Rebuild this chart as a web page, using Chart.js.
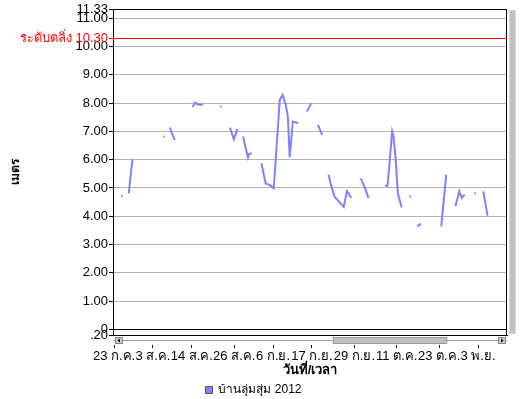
<!DOCTYPE html>
<html>
<head>
<meta charset="utf-8">
<script src="https://cdn.jsdelivr.net/npm/chart.js@4"></script>
<style>
  html, body { margin: 0; padding: 0; background: #fff; }
  #wrap { width: 521px; height: 399px; }
</style>
</head>
<body>
<div id="wrap"><canvas id="levelChart" width="521" height="399"></canvas></div>
<script>
// x = days after 23 ก.ค. 2012, null level = no reading (gap in the line)
const days = [
  2.2, 3.1,
  4.0, 4.2, 4.7, 5.2, 9.0,
  14.1, 15.0,
  15.8, 16.4, 17.2, 20.0,
  22.2, 22.9, 23.5, 24.3, 25.2, 28.0,
  30.2, 31.0,
  32.8, 33.9, 34.9, 35.7,
  36.5, 37.9, 38.2, 39.0, 40.0,
  41.7, 42.9, 44.1, 45.2, 46.0, 46.9, 47.7, 48.6, 49.2, 49.7, 50.6, 52.1, 53.0,
  54.6, 55.8, 56.5,
  57.7, 58.9, 60.0,
  60.7, 61.4, 62.4, 64.3, 65.0, 65.9, 67.1, 68.0,
  69.8, 70.9, 72.0, 74.0,
  76.7, 77.4, 78.7, 79.1, 79.7, 80.3, 81.4, 82.5,
  83.8, 84.5,
  85.8, 86.9, 89.0,
  92.6, 94.0, 95.0,
  96.6, 97.7, 98.4, 99.2, 100.5,
  102.1, 103.0,
  104.5, 105.7
];
const levels = [
  4.71, null,
  4.87, 4.85, 5.45, 6.01, null,
  6.82, null,
  7.14, 6.92, 6.70, null,
  7.86, 8.02, 7.97, 7.94, 7.95, null,
  7.88, null,
  7.13, 6.72, 7.09, null,
  6.82, 6.07, 6.20, 6.23, null,
  5.87, 5.16, 5.10, 4.99, 6.46, 8.12, 8.29, 7.94, 7.50, 6.09, 7.35, 7.29, null,
  7.70, 8.00, null,
  7.23, 6.88, null,
  5.48, 5.10, 4.69, 4.43, 4.33, 4.89, 4.65, null,
  5.34, 5.04, 4.65, null,
  5.08, 5.08, 7.00, 6.82, 6.00, 4.82, 4.31, null,
  4.70, null,
  3.64, 3.74, null,
  3.64, 5.47, null,
  4.35, 4.88, 4.65, 4.76, null,
  4.81, null,
  4.88, 4.02
];

const bankLevel = 10.30;
const yTicks = [-0.2, 0, 1, 2, 3, 4, 5, 6, 7, 8, 9, 10, 10.3, 11, 11.33];
const yTickLabels = [".20", "0", "1.00", "2.00", "3.00", "4.00", "5.00", "6.00", "7.00", "8.00", "9.00", "10.00", "ระดับตลิ่ง 10.30", "11.00", "11.33"];
const xTickDays = [0, 11, 22, 34, 45, 56, 68, 80, 92, 103];
const xTickLabels = ["23 ก.ค.", "3 ส.ค.", "14 ส.ค.", "26 ส.ค.", "6 ก.ย.", "17 ก.ย.", "29 ก.ย.", "11 ต.ค.", "23 ต.ค.", "3 พ.ย."];

const lineColor = "#8080ff";
const fontFamily = "'Liberation Sans', 'Noto Sans', sans-serif";

// scrollbars + right frame, drawn on top
const chromePlugin = {
  id: "chrome",
  afterDraw(chart) {
    const { ctx, chartArea: ca } = chart;
    ctx.save();
    ctx.lineWidth = 1;
    ctx.strokeStyle = "#000";
    ctx.beginPath();
    ctx.moveTo(ca.right - 0.5, ca.top);
    ctx.lineTo(ca.right - 0.5, ca.bottom);
    ctx.stroke();

    // horizontal scrollbar
    const y0 = ca.bottom + 1, h = 9;
    ctx.fillStyle = "#fff";
    ctx.fillRect(ca.left + 1, y0, ca.right - ca.left, h);
    ctx.strokeStyle = "#a0a0a0";
    ctx.beginPath();
    ctx.moveTo(ca.left + 1, y0 + 4.5);
    ctx.lineTo(ca.right, y0 + 4.5);
    ctx.stroke();
    const w = ca.right - ca.left;
    const t0 = ca.left + w * 0.558, t1 = ca.left + w * 0.848;
    ctx.fillStyle = "#c0c0c0";
    ctx.fillRect(t0, y0 + 1, t1 - t0, 7);
    ctx.strokeStyle = "#999";
    ctx.strokeRect(t0 + 0.5, y0 + 1.5, t1 - t0 - 1, 6);
    [ca.left + 2, ca.right - 9].forEach((bx, k) => {
      ctx.fillStyle = "#c8c8c8";
      ctx.fillRect(bx, y0 + 1, 8, 7);
      ctx.strokeStyle = "#888";
      ctx.strokeRect(bx + 0.5, y0 + 1.5, 7, 6);
      ctx.fillStyle = "#000";
      ctx.beginPath();
      if (k === 0) {
        ctx.moveTo(bx + 2.5, y0 + 4.5);
        ctx.lineTo(bx + 5, y0 + 2.5);
        ctx.lineTo(bx + 5, y0 + 6.5);
      } else {
        ctx.moveTo(bx + 5.5, y0 + 4.5);
        ctx.lineTo(bx + 3, y0 + 2.5);
        ctx.lineTo(bx + 3, y0 + 6.5);
      }
      ctx.fill();
    });

    // vertical scrollbar
    ctx.fillStyle = "#c0c0c0";
    ctx.fillRect(ca.right + 2, ca.top + 1, 7, ca.bottom - ca.top - 2);
    ctx.strokeStyle = "#d8d8d8";
    ctx.strokeRect(ca.right + 2.5, ca.top + 1.5, 6, ca.bottom - ca.top - 3);
    ctx.restore();
  }
};

new Chart(document.getElementById("levelChart"), {
  type: "line",
  data: {
    datasets: [{
      label: "บ้านลุ่มสุ่ม 2012",
      data: days.map((d, i) => ({ x: d, y: levels[i] })),
      borderColor: lineColor,
      backgroundColor: lineColor,
      borderWidth: 2,
      tension: 0,
      spanGaps: false,
      pointStyle: "rect",
      pointBorderWidth: 0,
      pointRadius: ctx => {
        const i = ctx.dataIndex;
        if (levels[i] == null) return 0;
        return (levels[i - 1] == null && levels[i + 1] == null) ? 1.3 : 0;
      },
      pointHoverRadius: 0
    }]
  },
  options: {
    responsive: false,
    animation: false,
    layout: { padding: { top: 9, right: 14, bottom: -7, left: 0 } },
    plugins: {
      legend: {
        position: "bottom",
        labels: {
          boxWidth: 7,
          boxHeight: 7,
          padding: 0,
          color: "#000",
          font: { family: fontFamily, size: 12 },
          generateLabels: chart => chart.data.datasets.map((ds, i) => ({
            text: ds.label,
            fillStyle: lineColor,
            strokeStyle: "#555",
            lineWidth: 1,
            datasetIndex: i
          }))
        }
      },
      tooltip: { enabled: false }
    },
    scales: {
      x: {
        type: "linear",
        min: -0.3,
        max: 111.2,
        afterBuildTicks: scale => { scale.ticks = xTickDays.map(v => ({ value: v })); },
        afterFit: scale => { scale.height = 49; },
        grid: { drawOnChartArea: false, tickLength: 13, tickColor: "#000" },
        border: { color: "#000" },
        ticks: {
          autoSkip: false,
          maxRotation: 0,
          padding: 1,
          color: "#000",
          font: { family: fontFamily, size: 13 },
          callback: (v, i) => xTickLabels[i]
        },
        title: {
          display: true,
          text: "วันที่/เวลา",
          color: "#000",
          font: { family: fontFamily, size: 13, weight: "bold" },
          padding: { top: 0, bottom: 6 }
        }
      },
      y: {
        min: -0.2,
        max: 11.33,
        afterBuildTicks: scale => { scale.ticks = yTicks.map(v => ({ value: v })); },
        afterFit: scale => { scale.width = 113; },
        grid: {
          tickLength: 4,
          color: ctx => {
            const v = ctx.tick ? ctx.tick.value : null;
            if (v === bankLevel) return "#ff0000";
            if (v === 0 || v === -0.2 || v === 11.33) return "#000";
            return "#b4b4b4";
          },
          tickColor: ctx => (ctx.tick && ctx.tick.value === bankLevel) ? "#ff0000" : "#000"
        },
        border: { color: "#000" },
        ticks: {
          autoSkip: false,
          padding: 1,
          font: { family: fontFamily, size: 13 },
          color: ctx => (ctx.tick && ctx.tick.value === bankLevel) ? "#ff0000" : "#000",
          callback: (v, i) => yTickLabels[i]
        },
        title: {
          display: true,
          text: "เมตร",
          color: "#000",
          font: { family: fontFamily, size: 12, weight: "bold" },
          padding: { top: 8, bottom: 0 }
        }
      }
    }
  },
  plugins: [chromePlugin]
});
</script>
</body>
</html>
